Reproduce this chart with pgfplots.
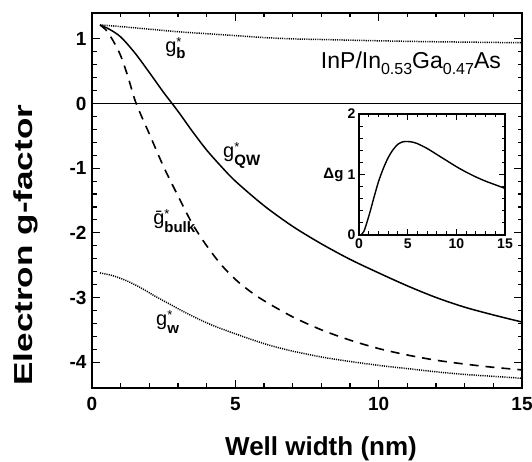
\documentclass[border=0pt]{standalone}
\usepackage{fontspec}
\setmainfont{Liberation Sans}
\usepackage{pgfplots}
\pgfplotsset{compat=1.18}
\newcommand{\gsym}[3]{g\rlap{\raisebox{#3}{\fontsize{13}{13}\selectfont *}}\raisebox{#2}{\fontsize{15}{15}\selectfont\bfseries #1}}
\begin{document}
\begin{tikzpicture}
\begin{axis}[
  at={(0pt,0pt)}, anchor=south west,
  scale only axis, width=430pt, height=375pt,
  xmin=0, xmax=15, ymin=-4.4, ymax=1.4,
  xtick={0,5,10,15}, xticklabels={0,5,10,15},
  ytick={-4,-3,-2,-1,0,1}, yticklabels={-4,-3,-2,-1,0,1},
  minor x tick num=4, minor y tick num=4,
  tick align=inside, major tick length=8pt, minor tick length=4.5pt,
  axis line style={line width=1.5pt},
  every tick/.style={black, line width=1.2pt},
  tick label style={font=\fontsize{19}{22}\selectfont\bfseries},
  xticklabel style={yshift=-6pt},
  yticklabel style={xshift=-2pt},
  clip=false,
]
\addplot[black, line width=1.3pt] coordinates {(0,0) (15,0)};
% g_b (dotted)
\addplot[black, line width=1.5pt, dash pattern=on 1.1pt off 1.1pt, smooth] coordinates {
(0.28,1.215) (1,1.19) (2,1.15) (3,1.11) (4,1.08) (5,1.05) (6,1.02) (7,1.0) (8,0.99) (10,0.97) (12,0.955) (15,0.94)};
% g_QW (solid)
\addplot[black, line width=1.5pt, smooth] coordinates {
(0.28,1.215) (0.6,1.15) (1,1.03) (1.5,0.78) (2,0.48) (2.5,0.17) (3,-0.12) (3.5,-0.43) (4,-0.72) (4.5,-0.97) (5,-1.2) (6,-1.58) (7,-1.9) (8,-2.17) (9,-2.41) (10,-2.62) (11,-2.82) (12,-3.0) (13,-3.15) (14,-3.27) (15,-3.38)};
% g bulk (dashed)
\addplot[black, line width=1.6pt, dash pattern=on 9pt off 7pt, smooth] coordinates {
(0.28,1.215) (0.5,1.13) (0.75,0.96) (1,0.74) (1.25,0.42) (1.5,0.05) (1.75,-0.22) (2,-0.47) (2.5,-0.98) (3,-1.43) (3.5,-1.86) (4,-2.2) (4.5,-2.49) (5,-2.72) (5.5,-2.9) (6,-3.05) (7,-3.3) (8,-3.5) (9,-3.66) (10,-3.79) (11,-3.89) (12,-3.97) (13,-4.03) (14,-4.08) (15,-4.12)};
% g_w (dotted)
\addplot[black, line width=1.5pt, dash pattern=on 1.1pt off 1.1pt, smooth] coordinates {
(0.28,-2.62) (0.7,-2.66) (1.2,-2.74) (1.7,-2.85) (2.2,-2.98) (2.7,-3.1) (3.2,-3.22) (3.7,-3.33) (4.2,-3.43) (4.8,-3.53) (5.5,-3.64) (6.2,-3.74) (7,-3.83) (8,-3.92) (9,-3.99) (10,-4.05) (11,-4.1) (12,-4.15) (13,-4.19) (14,-4.22) (15,-4.25)};
% annotations
\node[anchor=base east, inner sep=0pt, font=\fontsize{23}{26}\selectfont] at (axis cs:14.27,0.54) {InP/In\raisebox{-6pt}{\fontsize{16}{16}\selectfont 0.53}Ga\raisebox{-6pt}{\fontsize{16}{16}\selectfont 0.47}As};
\node[anchor=base west, inner sep=0pt, font=\fontsize{20}{22}\selectfont] at (axis cs:2.55,0.785) {\gsym{b}{-6pt}{6pt}};
\node[anchor=base west, inner sep=0pt, font=\fontsize{20}{22}\selectfont] at (axis cs:4.57,-0.83) {\gsym{QW}{-8pt}{6pt}};
\node[anchor=base west, inner sep=0pt, font=\fontsize{20}{22}\selectfont] at (axis cs:2.13,-1.877) {\=g\rlap{\raisebox{6pt}{\fontsize{13}{13}\selectfont *}}\raisebox{-8pt}{\fontsize{15}{15}\selectfont\bfseries bulk}};
\node[anchor=base west, inner sep=0pt, font=\fontsize{20}{22}\selectfont] at (axis cs:2.23,-3.43) {\gsym{w}{-8pt}{6pt}};
% axis labels
\node[anchor=center, font=\fontsize{26}{30}\selectfont\bfseries] at (axis description cs:0.5326,-0.163) {Well width (nm)};
\node[anchor=center, rotate=90, font=\fontsize{26}{30}\selectfont\bfseries] at (axis description cs:-0.1535,0.381) {\scalebox{1.35}[1]{Electron g-factor}};
\end{axis}
\begin{axis}[
  at={(267pt,153pt)}, anchor=south west,
  scale only axis, width=146pt, height=121pt,
  xmin=0, xmax=15, ymin=0, ymax=2,
  xtick={0,5,10,15}, xticklabels={0,5,10,15},
  ytick={0,1,2}, yticklabels={0,1,2},
  minor x tick num=4, minor y tick num=4,
  tick align=inside, major tick length=6pt, minor tick length=3.5pt,
  axis line style={line width=1.3pt},
  every tick/.style={black, line width=1pt},
  tick label style={font=\fontsize{14}{16}\selectfont\bfseries},
  axis background/.style={fill=white},
  clip=false,
]
\addplot[black, line width=1.4pt, smooth] coordinates {
(0.2,0) (0.5,0.06) (0.8,0.2) (1.2,0.42) (1.5,0.6) (2,0.88) (2.5,1.1) (3,1.28) (3.5,1.41) (4,1.5) (4.5,1.54) (5,1.545) (5.5,1.535) (6,1.51) (7,1.43) (8,1.33) (9,1.23) (10,1.13) (11,1.04) (12,0.96) (13,0.89) (14,0.83) (15,0.77)};
\node[anchor=center, font=\fontsize{15}{17}\selectfont\bfseries] at (axis description cs:-0.175,0.5) {Δg};
\end{axis}
\pgfresetboundingbox
\path[use as bounding box] (-92pt,-74pt) rectangle (440pt,388pt);
\end{tikzpicture}
\end{document}
